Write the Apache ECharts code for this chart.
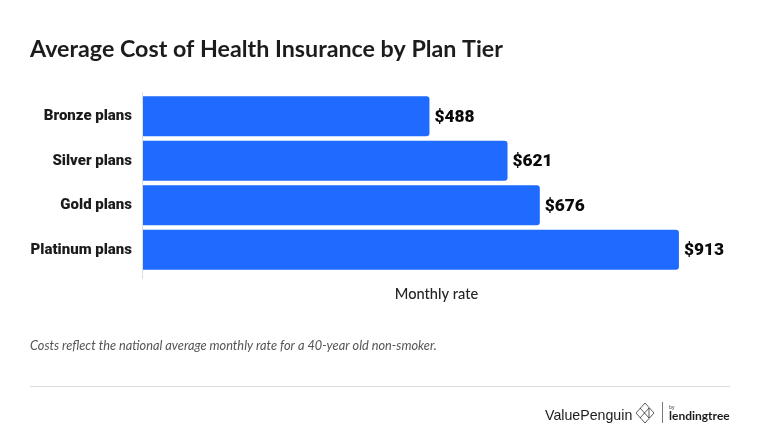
<!DOCTYPE html>
<html><head><meta charset="utf-8">
<style>html,body{margin:0;padding:0;background:#fff}#c{width:760px;height:441px}</style>
<script src="https://cdn.jsdelivr.net/npm/echarts@6/dist/echarts.min.js"></script>
</head><body><div id="c"></div>
<script>
const categories = ['Bronze plans','Silver plans','Gold plans','Platinum plans'];
const rates = [488,621,676,913];
const titleText = 'Average Cost of Health Insurance by Plan Tier';
const axisName = 'Monthly rate';
const footnote = 'Costs reflect the national average monthly rate for a 40-year old non-smoker.';
const chart = echarts.init(document.getElementById('c'), null, {renderer:'canvas'});
chart.setOption({
  animation:false,
  backgroundColor:'#fff',
  title:{text:titleText,left:30,top:38,padding:0,textStyle:{fontFamily:'Lato',fontWeight:700,fontSize:23.25,color:'#1c1c1c'}},
  grid:{left:143,width:587,top:94,height:178,containLabel:false},
  xAxis:{type:'value',min:0,max:1000,show:true,name:axisName,nameLocation:'middle',nameGap:15,
    nameTextStyle:{fontFamily:'Lato',fontWeight:500,fontSize:14.6,color:'#222'},
    axisLine:{show:false},axisTick:{show:false},axisLabel:{show:false},splitLine:{show:false}},
  yAxis:{type:'category',inverse:true,data:categories,
    axisLine:{show:false},axisTick:{show:false},
    axisLabel:{margin:11,padding:[2,0,0,0],fontFamily:'Roboto',fontWeight:900,fontSize:15,color:'#1c1c1c'}},
  series:[{type:'bar',data:rates,barWidth:40,
    itemStyle:{color:'#1f6bff',borderRadius:[0,3,3,0]},
    label:{show:true,position:'right',distance:5,offset:[0,1],formatter:p=>'$'+p.value,
      fontFamily:'Roboto',fontWeight:900,fontSize:17.3,color:'#0a0a0a'}}],
  graphic:[
    {type:'line',z:-1,shape:{x1:142.5,y1:92,x2:142.5,y2:279},style:{stroke:'#dedede',lineWidth:1}},
    {type:'text',left:30,top:339,style:{text:footnote,fontFamily:'Lato',fontStyle:'italic',fontSize:12.75,fill:'#555'}},
    {type:'line',shape:{x1:30,y1:386.5,x2:730,y2:386.5},style:{stroke:'#dcdcdc',lineWidth:1}},
    {type:'text',left:545,top:409,style:{text:'ValuePenguin',fontFamily:'Liberation Sans',fontSize:14.2,fill:'#1c1c1c'}},
    {type:'polygon',shape:{points:[[645,403],[654,413],[645,423],[636,413]]},style:{fill:'none',stroke:'#333',lineWidth:0.8}},
    {type:'polyline',shape:{points:[[640,408],[649,418],[649,408],[640,418]]},style:{fill:'none',stroke:'#333',lineWidth:0.8}},
    {type:'line',shape:{x1:662.5,y1:402,x2:662.5,y2:423},style:{stroke:'#555',lineWidth:0.8}},
    {type:'text',left:669,top:405,style:{text:'by',fontFamily:'Open Sans',fontSize:5,fill:'#333'}},
    {type:'text',left:669,top:410,style:{text:'lendingtree',fontFamily:'Lato',fontWeight:700,fontSize:12,fill:'#1c1c1c'}}
  ]
});
</script></body></html>
